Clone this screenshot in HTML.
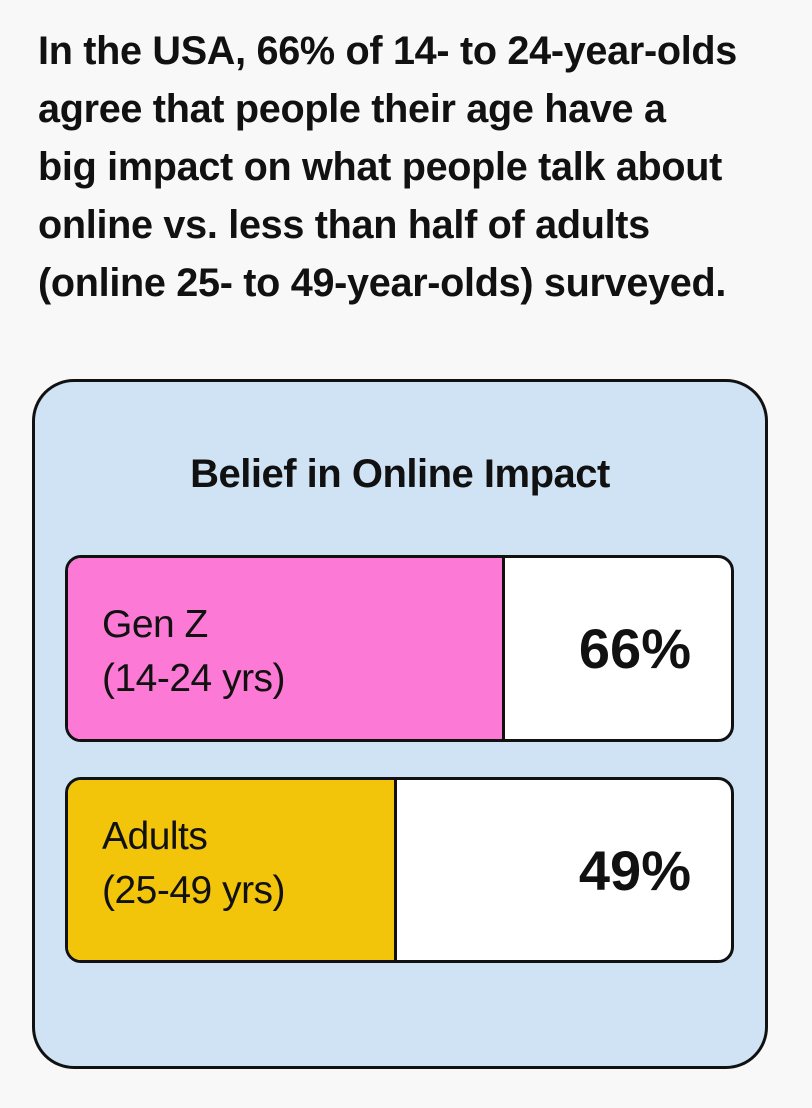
<!DOCTYPE html>
<html><head><meta charset="utf-8"><style>
html,body{margin:0;padding:0;width:812px;height:1108px;background:#f8f8f8;overflow:hidden;font-family:"Liberation Sans",sans-serif;color:#111;}
.h{position:absolute;left:38px;top:22px;font-size:39.6px;font-weight:bold;line-height:58px;white-space:nowrap;letter-spacing:-0.3px}
.box{position:absolute;left:32px;top:379px;width:730px;height:684px;border:3px solid #111;border-radius:42px;background:#cfe3f5}
.t{position:absolute;left:0;width:100%;top:70px;text-align:center;font-size:40px;font-weight:bold;letter-spacing:-0.5px}
.bar{position:absolute;left:30px;width:663px;border:3px solid #111;border-radius:16px;background:#fff;overflow:hidden}
.fill{position:absolute;left:0;top:0;bottom:0;border-right:3px solid #111}
.lab{position:absolute;left:34px;font-size:39px;line-height:54px;letter-spacing:-0.5px}
.val{position:absolute;right:40px;font-size:56px;font-weight:bold}
</style></head><body>
<div class="h">In the USA, 66% of 14- to 24-year-olds<br>agree that people their age have a<br>big impact on what people talk about<br>online vs. less than half of adults<br>(online 25- to 49-year-olds) surveyed.</div>
<div class="box">
<div class="t">Belief in Online Impact</div>
<div class="bar" style="top:173px;height:181px"><div class="fill" style="width:434px;background:#fc7ad6"></div><div class="lab" style="top:40px">Gen Z<br>(14-24 yrs)</div><div class="val" style="top:58px">66%</div></div>
<div class="bar" style="top:395px;height:180px"><div class="fill" style="width:326px;background:#f2c50a"></div><div class="lab" style="top:30px">Adults<br>(25-49 yrs)</div><div class="val" style="top:58px">49%</div></div>
</div>
</body></html>
